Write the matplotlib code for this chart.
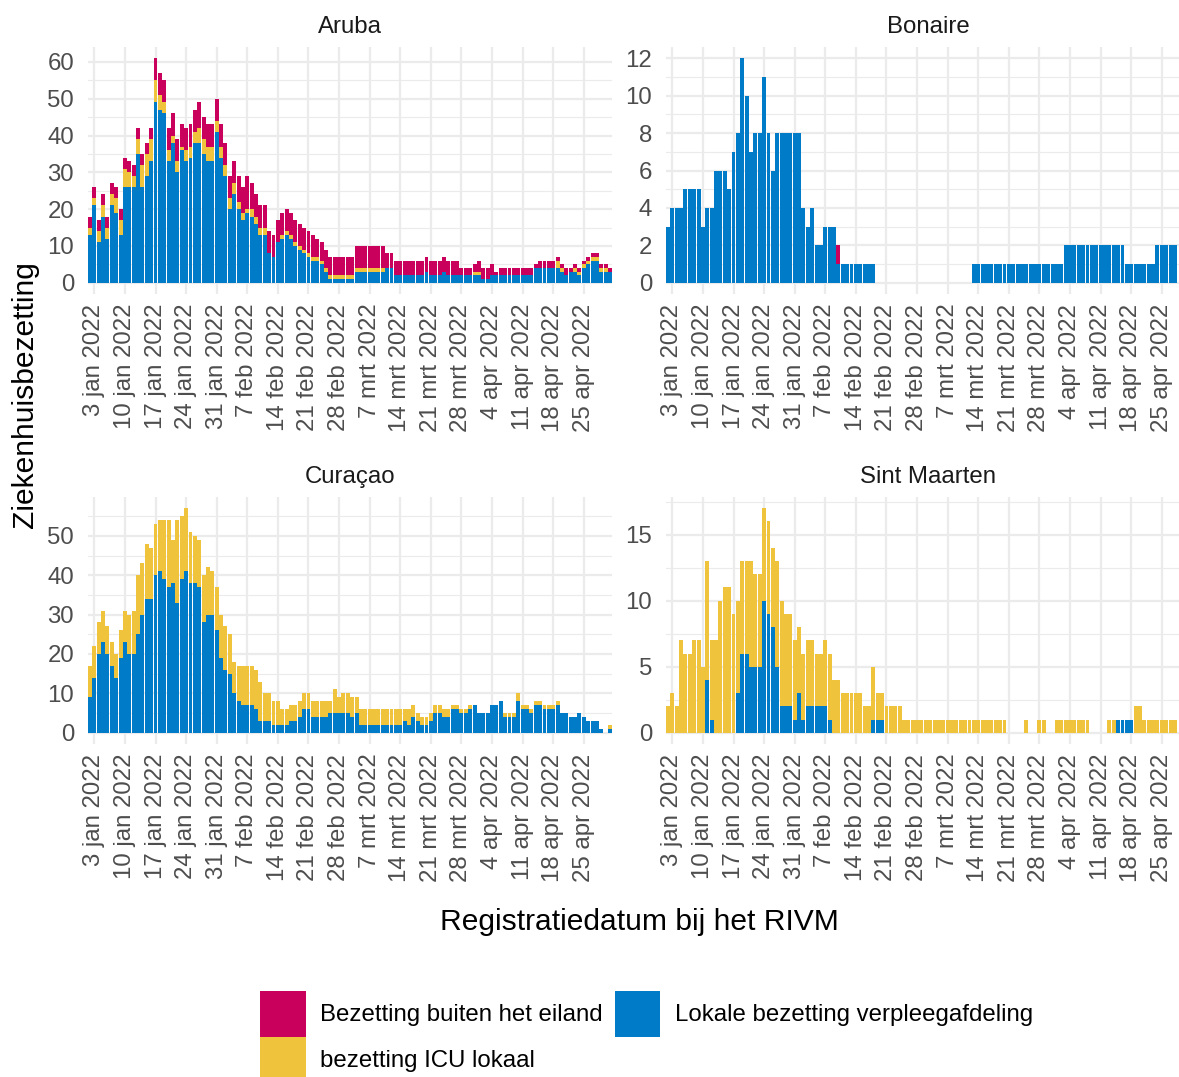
"""
Ziekenhuisbezetting Caribisch deel van het Koninkrijk, per eiland (gestapelde staven).
"""
import numpy as np
import pandas as pd
import matplotlib
matplotlib.use("Agg")
import matplotlib.pyplot as plt
import matplotlib.dates as mdates
from matplotlib.patches import Patch
from matplotlib.ticker import MultipleLocator

plt.rcParams["font.family"] = ["Liberation Sans", "DejaVu Sans"]

START_DATE = "2022-01-02"

# Aruba, 2 jan .. 1 mei
ARUBA_LOCAL = [
    13, 21, 11, 18, 12, 21, 19,
    13, 26, 26, 26, 35, 26, 29,
    33, 49, 47, 46, 33, 38, 30,
    36, 33, 34, 38, 38, 35, 33,
    33, 41, 34, 29, 20, 24, 20,
    17, 19, 18, 16, 13, 13, 8,
    7, 11, 12, 13, 12, 10, 9,
    8, 7, 6, 6, 5, 3, 1,
    1, 1, 1, 1, 1, 3, 3,
    3, 3, 3, 3, 3, 4, 4,
    2, 2, 2, 2, 2, 2, 2,
    3, 2, 2, 2, 3, 2, 2,
    2, 2, 2, 2, 2, 2, 1,
    1, 2, 2, 2, 2, 2, 2,
    2, 2, 2, 2, 4, 4, 4,
    4, 4, 4, 3, 2, 3, 3,
    2, 4, 5, 6, 6, 3, 3,
    3,
]
ARUBA_ICU = [
    2, 2, 3, 3, 3, 3, 4,
    4, 5, 4, 3, 4, 6, 6,
    6, 6, 4, 3, 3, 2, 3,
    1, 3, 3, 3, 4, 4, 4,
    4, 3, 3, 3, 3, 3, 2,
    2, 1, 2, 2, 2, 2, 0,
    0, 0, 1, 1, 1, 1, 1,
    1, 1, 1, 1, 1, 1, 1,
    1, 1, 1, 1, 1, 1, 1,
    1, 1, 1, 1, 1, 0, 0,
    0, 0, 0, 0, 0, 0, 0,
    0, 0, 0, 0, 0, 0, 0,
    0, 0, 0, 0, 1, 1, 0,
    0, 0, 0, 0, 0, 0, 0,
    0, 0, 0, 0, 0, 0, 0,
    0, 0, 2, 1, 0, 0, 1,
    1, 1, 1, 1, 1, 1, 1,
    0,
]
ARUBA_OUTSIDE = [
    3, 3, 3, 3, 3, 3, 3,
    3, 3, 3, 3, 3, 3, 3,
    3, 6, 6, 6, 6, 6, 6,
    6, 6, 6, 6, 7, 6, 6,
    6, 6, 6, 6, 6, 6, 7,
    7, 9, 7, 6, 6, 6, 6,
    6, 6, 6, 6, 6, 6, 6,
    6, 6, 6, 5, 5, 5, 5,
    5, 5, 5, 5, 5, 6, 6,
    6, 6, 6, 6, 6, 4, 4,
    4, 4, 4, 4, 4, 4, 4,
    4, 4, 4, 4, 4, 4, 4,
    4, 2, 2, 2, 2, 3, 3,
    3, 3, 1, 2, 2, 2, 2,
    2, 2, 2, 2, 1, 2, 2,
    2, 2, 1, 1, 2, 1, 1,
    1, 1, 1, 1, 1, 1, 1,
    1,
]

# Bonaire, 2 jan .. 28 apr
BONAIRE_LOCAL = [
    3, 4, 4, 4, 5, 5, 5,
    5, 3, 4, 4, 6, 6, 6,
    5, 7, 8, 12, 10, 7, 8,
    8, 11, 8, 6, 8, 8, 8,
    8, 8, 8, 4, 3, 4, 2,
    2, 3, 3, 3, 1, 1, 1,
    1, 1, 1, 1, 1, 1, 0,
    0, 0, 0, 0, 0, 0, 0,
    0, 0, 0, 0, 0, 0, 0,
    0, 0, 0, 0, 0, 0, 0,
    1, 1, 1, 1, 1, 1, 1,
    1, 1, 1, 1, 1, 1, 1,
    1, 1, 1, 1, 1, 1, 1,
    2, 2, 2, 2, 2, 2, 2,
    2, 2, 2, 2, 2, 2, 2,
    1, 1, 1, 1, 1, 1, 1,
    2, 2, 2, 2, 2,
]
BONAIRE_ICU = [0] * 117
BONAIRE_OUTSIDE = [0] * 39 + [1] + [0] * 77

# Curacao, 2 jan .. 1 mei
CURACAO_LOCAL = [
    9, 14, 20, 23, 20, 17, 14,
    19, 23, 20, 20, 25, 30, 34,
    34, 40, 41, 39, 37, 38, 33,
    39, 41, 38, 38, 37, 28, 30,
    30, 26, 19, 16, 15, 10, 8,
    7, 7, 7, 6, 3, 3, 3,
    2, 2, 2, 2, 3, 3, 4,
    6, 6, 4, 4, 4, 4, 5,
    5, 5, 5, 5, 4, 5, 2,
    2, 2, 2, 2, 2, 2, 2,
    2, 2, 3, 2, 4, 3, 2,
    2, 3, 5, 5, 4, 4, 6,
    6, 5, 5, 6, 7, 5, 5,
    5, 7, 7, 8, 4, 4, 4,
    8, 6, 6, 5, 7, 7, 6,
    6, 6, 7, 5, 5, 4, 4,
    5, 4, 3, 3, 3, 1, 0,
    1,
]
CURACAO_ICU = [
    8, 8, 8, 8, 7, 6, 6,
    7, 8, 10, 11, 15, 13, 14,
    13, 13, 13, 15, 17, 11, 21,
    16, 16, 13, 12, 12, 12, 12,
    11, 11, 11, 11, 10, 8, 9,
    10, 10, 10, 10, 10, 7, 7,
    6, 6, 4, 4, 4, 4, 4,
    4, 4, 4, 4, 4, 4, 3,
    6, 4, 5, 5, 5, 4, 4,
    4, 4, 4, 4, 4, 4, 4,
    4, 4, 3, 4, 3, 2, 2,
    2, 2, 2, 2, 2, 2, 1,
    1, 1, 1, 1, 0, 0, 0,
    0, 0, 0, 0, 1, 1, 1,
    2, 1, 1, 1, 1, 1, 1,
    1, 1, 1, 0, 0, 0, 0,
    0, 0, 0, 0, 0, 0, 0,
    1,
]
CURACAO_OUTSIDE = [0] * 120

# Sint Maarten, 2 jan .. 28 apr
SXM_LOCAL = [
    0, 0, 0, 0, 0, 0, 0,
    0, 0, 4, 1, 0, 0, 0,
    0, 0, 3, 6, 6, 5, 5,
    5, 10, 9, 8, 5, 2, 2,
    2, 1, 3, 1, 2, 2, 2,
    2, 2, 1, 0, 0, 0, 0,
    0, 0, 0, 0, 0, 1, 1,
    1, 0, 0, 0, 0, 0, 0,
    0, 0, 0, 0, 0, 0, 0,
    0, 0, 0, 0, 0, 0, 0,
    0, 0, 0, 0, 0, 0, 0,
    0, 0, 0, 0, 0, 0, 0,
    0, 0, 0, 0, 0, 0, 0,
    0, 0, 0, 0, 0, 0, 0,
    0, 0, 0, 0, 0, 1, 1,
    1, 1, 0, 0, 0, 0, 0,
    0, 0, 0, 0, 0,
]
SXM_ICU = [
    2, 3, 2, 7, 6, 6, 7,
    7, 5, 9, 6, 7, 10, 11,
    11, 9, 7, 7, 7, 8, 7,
    7, 7, 7, 6, 8, 8, 7,
    7, 6, 5, 5, 5, 5, 4,
    4, 5, 5, 4, 4, 3, 3,
    3, 3, 3, 2, 2, 4, 2,
    2, 2, 2, 2, 2, 1, 1,
    1, 1, 1, 1, 1, 1, 1,
    1, 1, 1, 1, 1, 1, 1,
    1, 1, 1, 1, 1, 1, 1,
    1, 0, 0, 0, 0, 1, 0,
    0, 1, 1, 0, 0, 1, 1,
    1, 1, 1, 1, 1, 1, 0,
    0, 0, 0, 1, 1, 0, 0,
    0, 0, 2, 2, 1, 1, 1,
    1, 1, 1, 1, 1,
]
SXM_OUTSIDE = [0] * 117

TICK_DATES = [
    "2022-01-03", "2022-01-10", "2022-01-17", "2022-01-24", "2022-01-31",
    "2022-02-07", "2022-02-14", "2022-02-21", "2022-02-28", "2022-03-07",
    "2022-03-14", "2022-03-21", "2022-03-28", "2022-04-04", "2022-04-11",
    "2022-04-18", "2022-04-25",
]
TICK_LABELS = [
    "3 jan 2022", "10 jan 2022", "17 jan 2022", "24 jan 2022", "31 jan 2022",
    "7 feb 2022", "14 feb 2022", "21 feb 2022", "28 feb 2022", "7 mrt 2022",
    "14 mrt 2022", "21 mrt 2022", "28 mrt 2022", "4 apr 2022", "11 apr 2022",
    "18 apr 2022", "25 apr 2022",
]

LEGEND_LABELS = ["Bezetting buiten het eiland", "bezetting ICU lokaal",
                 "Lokale bezetting verpleegafdeling"]
COLORS = {"outside": "#CA005D", "icu": "#F0C33C", "local": "#007BC7"}
GRID = "#EBEBEB"
W, H = 1179, 1077


def DrawPanel(ax, title, local, icu, outside, ystep):
    local = np.array(local, dtype=float)
    icu = np.array(icu, dtype=float)
    outside = np.array(outside, dtype=float)
    x = mdates.date2num(pd.date_range(START_DATE, periods=len(local), freq="D"))
    ax.bar(x, local, width=0.9, color=COLORS["local"], linewidth=0)
    ax.bar(x, icu, bottom=local, width=0.9, color=COLORS["icu"], linewidth=0)
    ax.bar(x, outside, bottom=local + icu, width=0.9, color=COLORS["outside"], linewidth=0)

    top = (local + icu + outside).max()
    ax.set_ylim(-0.05 * top, 1.05 * top)
    x0 = mdates.date2num(pd.Timestamp(START_DATE))
    ax.set_xlim(x0 - 0.45, x0 + 119 + 0.45)

    ax.yaxis.set_major_locator(MultipleLocator(ystep))
    ax.yaxis.set_minor_locator(MultipleLocator(ystep / 2))
    ticks = mdates.date2num(pd.to_datetime(TICK_DATES))
    ax.set_xticks(ticks)
    ax.set_xticklabels(TICK_LABELS, rotation=90, va="top", ha="center")

    ax.set_axisbelow(True)
    ax.grid(which="major", color=GRID, linewidth=1.6)
    ax.grid(which="minor", axis="y", color=GRID, linewidth=0.8)
    for s in ax.spines.values():
        s.set_visible(False)
    ax.tick_params(which="both", length=0)
    ax.tick_params(axis="y", pad=10, labelsize=17.3, labelcolor="#4D4D4D")
    ax.tick_params(axis="x", pad=7, labelsize=17.3, labelcolor="#4D4D4D")
    ax.set_title(title, fontsize=17.3, color="#1A1A1A", pad=10)


def main():
    fig = plt.figure(figsize=(W / 100, H / 100), dpi=100)
    pw, ph = 524, 247
    panels = [
        ("Aruba", 88, 47, ARUBA_LOCAL, ARUBA_ICU, ARUBA_OUTSIDE, 10),
        ("Bonaire", 666, 47, BONAIRE_LOCAL, BONAIRE_ICU, BONAIRE_OUTSIDE, 2),
        ("Curaçao", 88, 497, CURACAO_LOCAL, CURACAO_ICU, CURACAO_OUTSIDE, 10),
        ("Sint Maarten", 666, 497, SXM_LOCAL, SXM_ICU, SXM_OUTSIDE, 5),
    ]
    for title, left, top, local, icu, outside, ystep in panels:
        ax = fig.add_axes([left / W, 1 - (top + ph) / H, pw / W, ph / H])
        DrawPanel(ax, title, local, icu, outside, ystep)

    fig.text(25 / W, 1 - 395 / H, "Ziekenhuisbezetting", rotation=90,
             ha="center", va="center", fontsize=21.6)
    fig.text(639 / W, 1 - 922 / H, "Registratiedatum bij het RIVM",
             ha="center", va="center", fontsize=21.6)

    handles = [Patch(facecolor=COLORS["outside"]), Patch(facecolor=COLORS["icu"]),
               Patch(facecolor=COLORS["local"])]
    fig.legend(handles, LEGEND_LABELS, loc="upper left",
               bbox_to_anchor=(260 / W, 1 - 991 / H), ncol=2, frameon=False,
               fontsize=17.3, handlelength=1.9, handleheight=2.57,
               handletextpad=0.6, columnspacing=0.5, labelspacing=0.0,
               borderpad=0, borderaxespad=0)

    fig.savefig("out.png", dpi=100)
    plt.close(fig)


if __name__ == "__main__":
    main()
